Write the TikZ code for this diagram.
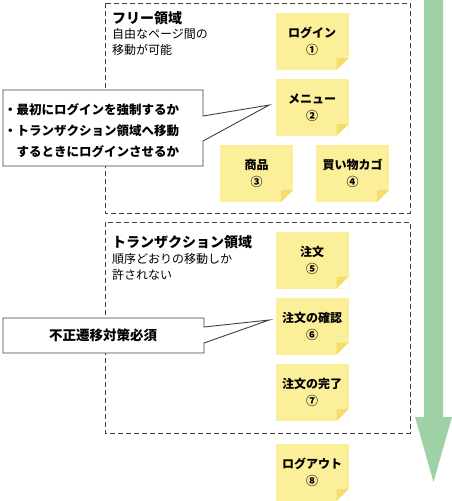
\documentclass[tikz,border=0pt]{standalone}
\usepackage{fontspec}
\setmainfont{Noto Sans CJK JP}
\usetikzlibrary{positioning}

\definecolor{notebg}{RGB}{252,239,154}
\definecolor{notefold}{RGB}{245,221,108}
\definecolor{flowgreen}{RGB}{158,209,166}
\definecolor{linegray}{RGB}{64,64,64}

\begin{document}
\begin{tikzpicture} [
    x=1pt, y=-1pt,
    note/.style={rectangle, fill=notebg, minimum width=73pt, minimum height=57pt, inner sep=0pt, align=center,
        font=\fontsize{12}{17}\selectfont\bfseries,
        path picture={
            \fill[white] ([xshift=-12pt]path picture bounding box.south east) -- (path picture bounding box.south east)
                -- ([yshift=12pt]path picture bounding box.south east) -- cycle;
            \fill[notefold] ([xshift=-12pt]path picture bounding box.south east) -- ([xshift=-12pt,yshift=12pt]path picture bounding box.south east)
                -- ([yshift=12pt]path picture bounding box.south east) -- cycle;
        }},
    region/.style={draw=linegray, dash pattern=on 5pt off 3pt, line width=0.8pt},
    title/.style={anchor=west, inner sep=0pt, font=\fontsize{14}{16}\selectfont\bfseries},
    desc/.style={anchor=west, inner sep=0pt, align=left, font=\fontsize{12}{16.5}\selectfont},
    callout/.style={draw=linegray, fill=white, line width=0.9pt, line join=miter},
    memo/.style={inner sep=0pt, align=left, font=\fontsize{12.5}{21}\selectfont\bfseries}
]
    \useasboundingbox (0,0) rectangle (452,501);

    % 領域の枠
    \draw[region] (105,3) rectangle (410,213);
    \draw[region] (105,222) rectangle (410,433);

    % フリー領域
    \node[title] (freetitle) at (112,18) {フリー領域};
    \node[desc] (freedesc) at (112,42) {自由なページ間の\\移動が可能};
    \node[note] (login) at (312,41.5) {ログイン\\①};
    \node[note] (menu) at (312,107.5) {メニュー\\②};
    \node[note] (goods) at (256.5,173.5) {商品\\③};
    \node[note] (cart) at (352.5,173.5) {買い物カゴ\\④};

    % トランザクション領域
    \node[title] (transtitle) at (112,242) {トランザクション領域};
    \node[desc] (transdesc) at (112,267) {順序どおりの移動しか\\許されない};
    \node[note] (order) at (312,260) {注文\\⑤};
    \node[note] (confirm) at (312,326) {注文の確認\\⑥};
    \node[note] (complete) at (312,392.5) {注文の完了\\⑦};

    % 領域外
    \node[note] (logout) at (312,472.5) {ログアウト\\⑧};

    % 吹き出し
    \coordinate (tip1) at ([xshift=-6pt,yshift=2.5pt]menu.west);
    \filldraw[callout] (3,90) -- (203,90) -- (203,116) -- (tip1) -- (203,141) -- (203,166) -- (3,166) -- cycle;
    \node[memo, anchor=west] (memo1) at (4,131) {・最初にログインを強制するか\\・トランザクション領域へ移動\\　するときにログインさせるか};

    \coordinate (tip2) at ([xshift=-6pt,yshift=6pt]confirm.west);
    \filldraw[callout] (3,318) -- (204,318) -- (204,327) -- (tip2) -- (204,343) -- (204,353) -- (3,353) -- cycle;
    \node[memo, font=\fontsize{13.5}{16}\selectfont\bfseries] (memo2) at (103,335.5) {不正遷移対策必須};

    % 遷移の向き
    \fill[flowgreen] (424,0) -- (443,0) -- (443,417) -- (452,417) -- (433.5,482) -- (415,417) -- (424,417) -- cycle;
\end{tikzpicture}
\end{document}
